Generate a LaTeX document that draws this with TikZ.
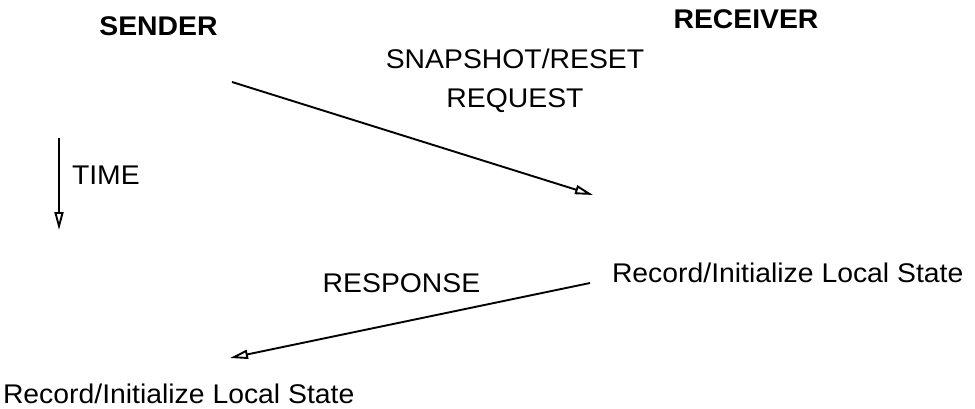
\documentclass[tikz,border=0pt]{standalone}
\usepackage{fontspec}
\setmainfont{Liberation Sans}[FakeStretch=1.05]
\usetikzlibrary{arrows.meta}
\begin{document}
\begin{tikzpicture}[x=1pt,y=-1pt,
  every node/.style={inner sep=0pt,outer sep=0pt,font=\fontsize{27}{39}\selectfont},
  title/.style={font=\fontsize{27}{39}\selectfont\bfseries},
  msg/.style={draw,line width=1.9pt,-{Triangle[open,length=18pt,width=9pt,line width=1.9pt]}}]
\useasboundingbox (0,0) rectangle (975,409);

% process headings
\node[title,anchor=base] (sender) at (158.5,36) {SENDER};
\node[title,anchor=base] (receiver) at (746,29) {RECEIVER};

% time axis
\coordinate (tstart) at (59,138);
\coordinate (tend) at (59,230);
\draw[msg] (tstart) -- (tend);
\node[anchor=base west] (time) at (72,185) {TIME};

% request message
\coordinate (reqstart) at (232,82);
\coordinate (reqend) at (593,195);
\draw[msg] (reqstart) -- (reqend);
\node[anchor=base,align=center] (reqlabel) at (515,108) {SNAPSHOT/RESET\\REQUEST};

% receiver records its state
\node[anchor=base west] (recvstate) at (612,282) {Record/Initialize Local State};

% response message
\coordinate (respstart) at (590,283);
\coordinate (respend) at (230,358);
\draw[msg] (respstart) -- (respend);
\node[anchor=base] (resplabel) at (401.5,292) {RESPONSE};

% sender records its state
\node[anchor=base west] (sendstate) at (3,403) {Record/Initialize Local State};
\end{tikzpicture}
\end{document}
